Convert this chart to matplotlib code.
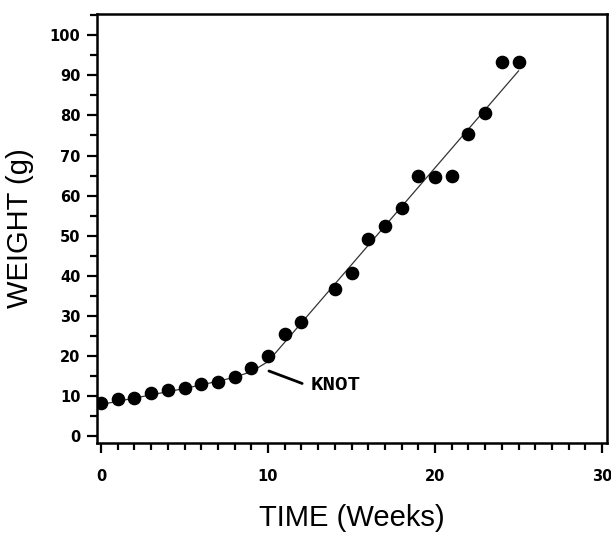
import matplotlib
matplotlib.use("Agg")
import matplotlib.pyplot as plt
from matplotlib.ticker import MultipleLocator

# observed data (weeks, grams)
weeks = [0, 1, 2, 3, 4, 5, 6, 7, 8, 9, 10, 11, 12, 14, 15, 16, 17, 18, 19, 20, 21, 22, 23, 24, 25]
weight = [8.2, 9.2, 9.6, 10.7, 11.4, 12.0, 13.0, 13.5, 14.8, 16.9, 19.9, 25.4, 28.4, 36.6, 40.6,
          49.3, 52.5, 57.0, 65.0, 64.7, 65.0, 75.3, 80.5, 93.3, 93.3]

# fitted spline
fit_x = [0, 1, 2, 3, 4, 5, 6, 7, 8, 9, 10, 25]
fit_y = [7.9, 8.7, 9.5, 10.3, 11.1, 11.9, 12.8, 13.7, 14.7, 16.1, 18.6, 91.1]

knot_text = "KNOT"
knot_point = (9.9, 16.5)
knot_label = (12.2, 12.9)

fig = plt.figure(figsize=(6.11, 5.35), dpi=100)
ax = fig.add_axes([0.1588, 0.1720, 0.8347, 0.8018])

ax.plot(fit_x, fit_y, color="#333333", lw=0.9, zorder=2)
ax.plot(weeks, weight, "o", color="black", ms=8.8, zorder=3)

ax.annotate("", xy=knot_point, xytext=knot_label,
            arrowprops=dict(arrowstyle="-", color="black", lw=2))
ax.text(knot_label[0] + 0.35, knot_label[1], knot_text, fontfamily="Liberation Mono",
        fontweight="bold", fontsize=15, va="center", ha="left")

ax.set_xlim(-0.24, 30.3)
ax.set_ylim(-1.7, 105.3)
ax.xaxis.set_major_locator(MultipleLocator(10))
ax.xaxis.set_minor_locator(MultipleLocator(1))
ax.yaxis.set_major_locator(MultipleLocator(10))
ax.yaxis.set_minor_locator(MultipleLocator(5))

for s in ax.spines.values():
    s.set_linewidth(1.8)
ax.tick_params(which="major", direction="out", length=7, width=1.6, labelsize=10.5)
ax.tick_params(which="minor", direction="out", length=5, width=1.6)
ax.tick_params(axis="x", which="major", pad=12)
ax.tick_params(axis="y", which="major", pad=5)
for lab in ax.get_xticklabels() + ax.get_yticklabels():
    lab.set_fontweight("bold")
    lab.set_fontfamily("DejaVu Sans")

ax.set_xlabel("TIME (Weeks)", fontfamily="Liberation Sans", fontsize=21, labelpad=14)
ax.set_ylabel("WEIGHT (g)", fontfamily="Liberation Sans", fontsize=21, labelpad=11)

fig.savefig("out.png", dpi=100)
